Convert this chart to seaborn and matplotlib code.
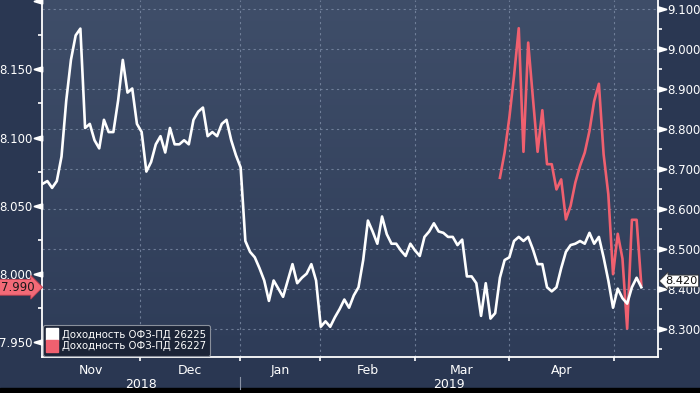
import matplotlib
matplotlib.use("Agg")
import matplotlib.pyplot as plt
import matplotlib.transforms as mtransforms
from matplotlib.colors import LinearSegmentedColormap
from matplotlib.lines import Line2D
from matplotlib.patches import Rectangle
from matplotlib.path import Path
import numpy as np
import pandas as pd
import seaborn as sns

# yields, one value per trading day (Nov 2018 .. early May 2019)
ofz_26225 = [8.066, 8.068, 8.063, 8.068, 8.086, 8.127, 8.157, 8.175, 8.180, 8.107,
             8.110, 8.098, 8.092, 8.113, 8.104, 8.104, 8.127, 8.157, 8.133, 8.136,
             8.110, 8.104, 8.075, 8.082, 8.095, 8.101, 8.089, 8.107, 8.095, 8.095,
             8.098, 8.095, 8.113, 8.119, 8.122, 8.101, 8.104, 8.101, 8.110, 8.113,
             8.098, 8.087, 8.078, 8.024, 8.016, 8.012, 8.004, 7.995, 7.980, 7.995,
             7.989, 7.983, 7.995, 8.007, 7.993, 7.997, 8.000, 8.007, 7.995, 7.961,
             7.965, 7.961, 7.968, 7.974, 7.981, 7.975, 7.984, 7.990, 8.010, 8.039,
             8.031, 8.022, 8.042, 8.029, 8.022, 8.022, 8.017, 8.013, 8.022, 8.017,
             8.013, 8.027, 8.031, 8.037, 8.031, 8.030, 8.027, 8.027, 8.021, 8.025,
             7.998, 7.998, 7.993, 7.969, 7.993, 7.967, 7.971, 7.997, 8.010, 8.012,
             8.024, 8.027, 8.024, 8.027, 8.018, 8.007, 8.007, 7.990, 7.987, 7.990,
             8.004, 8.016, 8.021, 8.022, 8.024, 8.022, 8.030, 8.022, 8.027, 8.012,
             7.995, 7.975, 7.989, 7.982, 7.978, 7.990, 7.997, 7.990]

ofz_26227_start = 97   # trading-day index of first 26227 quote
ofz_26227 = [8.678, 8.741, 8.828, 8.933, 9.052, 8.743, 9.016, 8.878, 8.743, 8.847,
             8.712, 8.712, 8.649, 8.674, 8.574, 8.608, 8.666, 8.708, 8.741, 8.795,
             8.870, 8.913, 8.737, 8.637, 8.437, 8.538, 8.476, 8.301, 8.573, 8.573,
             8.410]

names = ["Доходность ОФЗ-ПД 26225", "Доходность ОФЗ-ПД 26227"]
last_26225 = 7.990
last_26227 = 8.420

month_edges = [20.7, 41.9, 58.8, 79.0, 98.9, 121.2]
month_labels = ["Nov", "Dec", "Jan", "Feb", "Mar", "Apr"]
year_labels = ["2018", "2019"]
year_split = 41.9

left_ticks = [7.950, 8.000, 8.050, 8.100, 8.150, 8.200]
left_minor = [7.975, 8.025, 8.075, 8.125, 8.175]
right_ticks = [8.3, 8.4, 8.5, 8.6, 8.7, 8.8, 8.9, 9.0, 9.1]
right_minor = [8.25, 8.35, 8.45, 8.55, 8.65, 8.75, 8.85, 8.95, 9.05]

xlim = (-0.2, 130.6)
ylim_left = (7.9388, 8.201)
ylim_right = (8.23, 9.1225)
white = "#ffffff"
red = "#f0606f"
text_c = "#ffffff"

plt.rcParams['font.family'] = ['DejaVu Sans']

df1 = pd.DataFrame({"day": np.arange(len(ofz_26225)), "yld": ofz_26225})
df2 = pd.DataFrame({"day": np.arange(ofz_26227_start, ofz_26227_start + len(ofz_26227)),
                    "yld": ofz_26227})

fig = plt.figure(figsize=(7, 3.93), dpi=100, facecolor="#2a3752")
ax = fig.add_axes([0.0596, 0.0916, 0.8808, 0.9084])
ax2 = ax.twinx()
ax.set_zorder(2)
ax2.set_zorder(1)
ax.patch.set_visible(False)

# gradient background
bg = LinearSegmentedColormap.from_list("bg", ["#2e3c58", "#3f4e69"])
ax2.imshow(np.linspace(0, 1, 256).reshape(-1, 1), cmap=bg, origin="lower",
           extent=[0, 1, 0, 1], transform=ax2.transAxes, aspect="auto", zorder=-10)

sns.lineplot(data=df2, x="day", y="yld", ax=ax2, color=red, lw=1.9, legend=False)
sns.lineplot(data=df1, x="day", y="yld", ax=ax, color=white, lw=1.9, legend=False)

for a in (ax, ax2):
    a.set_xlabel("")
    a.set_ylabel("")
    for s in a.spines.values():
        s.set_visible(False)

ax.spines["left"].set_visible(True)
ax.spines["bottom"].set_visible(True)
ax2.spines["right"].set_visible(True)
for s in (ax.spines["left"], ax.spines["bottom"], ax2.spines["right"]):
    s.set_color(white)
    s.set_linewidth(1.3)

# ticks (top 8.200 label is cut off in the original)
ax.set_yticks(left_ticks)
ax.set_yticklabels([f"{v:.3f}" for v in left_ticks[:-1]] + [""])
ax.set_yticks(left_minor, minor=True)
ax2.set_yticks(right_ticks)
ax2.set_yticklabels([f"{v:.3f}" for v in right_ticks])
ax2.set_yticks(right_minor, minor=True)

# grid: dashed at right-axis ticks and month boundaries
ax2.grid(axis="y", color="#7d8ca6", ls=(0, (2, 3)), lw=0.8, alpha=0.8)
for e in month_edges:
    ax2.axvline(e, color="#7d8ca6", ls=(0, (2, 3)), lw=0.8, alpha=0.8, zorder=0)

ax.tick_params(axis="y", which="major", length=5.8, width=1.3, color=white,
               labelcolor=text_c, labelsize=8.5, pad=1)
ax.tick_params(axis="y", which="minor", length=3, width=1.2, color=white)
ax2.tick_params(axis="y", which="major", length=5.8, width=1.3, color=white,
                labelcolor=text_c, labelsize=8.5, pad=1)
ax2.tick_params(axis="y", which="minor", length=3, width=1.2, color=white)

# arrow-shaped major ticks
left_arrow = Path([(0, -0.3), (-1, 0), (0, 0.3), (0, -0.3)], closed=True)
right_arrow = Path([(0, -0.3), (1, 0), (0, 0.3), (0, -0.3)], closed=True)
for t in ax.yaxis.get_major_ticks():
    t.tick1line.set_marker(left_arrow)
    t.tick1line.set_markersize(11.5)
    t.tick1line.set_markerfacecolor(white)
for t in ax2.yaxis.get_major_ticks():
    t.tick2line.set_marker(right_arrow)
    t.tick2line.set_markersize(11.5)
    t.tick2line.set_markerfacecolor(white)

# x axis: month boundaries as ticks, month names centred between them
ax.set_xticks(month_edges)
ax.set_xticklabels([])
edges = [xlim[0]] + month_edges
centers = [(edges[i] + edges[i + 1]) / 2 for i in range(len(month_labels))]
ax.set_xticks(centers, minor=True)
ax.set_xticklabels(month_labels, minor=True)
ax.tick_params(axis="x", which="major", length=3, width=1.2, color=white)
ax.tick_params(axis="x", which="minor", length=0, pad=5, labelsize=9, labelcolor=text_c)
ax2.tick_params(axis="x", which="both", length=0, labelbottom=False)

# limits last, so tick setting cannot widen them
ax.set_xlim(*xlim)
ax.set_ylim(*ylim_left)
ax2.set_ylim(*ylim_right)

trans = mtransforms.blended_transform_factory(ax.transData, ax.transAxes)
year_centers = [(xlim[0] + year_split) / 2, (year_split + xlim[1]) / 2]
for xc, lab in zip(year_centers, year_labels):
    ax.text(xc, -0.076, lab, transform=trans, ha="center", va="center",
            color=text_c, fontsize=9)
ax.plot([year_split, year_split], [-0.055, -0.09], transform=trans, color="#8a93a5",
        lw=0.8, clip_on=False)

# last value tags
tl = mtransforms.blended_transform_factory(ax.transAxes, ax.transData)
ax.text(-0.012, last_26225, f"{last_26225:.3f}", transform=tl, ha="right", va="center",
        color="#1a1a1a", fontsize=8.5, zorder=10, clip_on=False,
        bbox=dict(boxstyle="rarrow,pad=0.12", fc="#f26a77", ec="#c04050", lw=0.6))
tr = mtransforms.blended_transform_factory(ax2.transAxes, ax2.transData)
ax2.text(1.0115, last_26227, f"{last_26227:.3f}", transform=tr, ha="left", va="center",
         color="#111111", fontsize=8.2, zorder=10, clip_on=False,
         bbox=dict(boxstyle="larrow,pad=0.08", fc="white", ec="#333333", lw=0.6))

handles = [Line2D([], [], ls="none", marker="s", markersize=8, markerfacecolor=c,
                  markeredgecolor=c) for c in (white, red)]
leg = ax.legend(handles, names, loc="lower left", bbox_to_anchor=(0.002, 0.003),
                borderaxespad=0, fontsize=7.3, handlelength=0.9, handletextpad=0.5,
                labelspacing=0.15, borderpad=0.45, fancybox=True, framealpha=1,
                facecolor="#1b2437", edgecolor="#8a909c", labelcolor=text_c)
leg.get_frame().set_linewidth(0.8)

fig.patches.append(Rectangle((0, 0), 1, 5 / 393, transform=fig.transFigure,
                             color="black", zorder=0))

fig.savefig("out.png", dpi=100, facecolor=fig.get_facecolor())
